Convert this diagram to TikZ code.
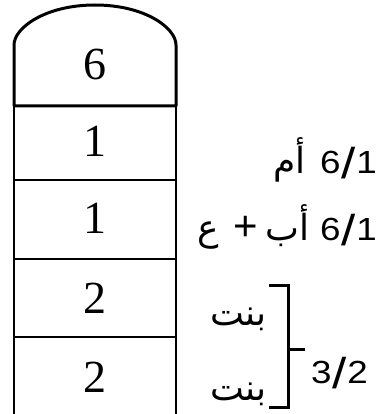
\documentclass[tikz,border=0pt]{standalone}
\usepackage{fontspec}
\setmainfont{Liberation Serif}
\newfontfamily\latsans{Liberation Sans}
\newfontfamily\arabicfont[Script=Arabic]{DejaVu Sans}
\TeXXeTstate=1
\newcommand{\frc}[2]{\scalebox{1.15}[1]{#1}\kern0.5pt\raisebox{-5pt}{\scalebox{1.6}[1.35]{/}}\kern1pt\scalebox{1.15}[1]{#2}}
\begin{document}
\begin{tikzpicture}[x=1pt,y=-1pt,
  thickline/.style={line width=3pt,line join=round},
  thinline/.style={line width=1.3pt},
  digit/.style={font=\fontsize{46}{46}\selectfont,inner sep=0pt,anchor=base},
  rlabel/.style={font=\latsans\fontsize{32}{32}\selectfont,inner sep=0pt,anchor=base east},
  pluslabel/.style={font=\latsans\fontsize{42}{42}\selectfont,inner sep=0pt,anchor=base east},
  arlabel/.style={font=\arabicfont\fontsize{36}{36}\selectfont,inner sep=0pt,anchor=base east}]
\useasboundingbox (0,0) rectangle (380,414);
% dome
\draw[thickline] (14,106) -- (14,45) .. controls (14,28) and (45,5) .. (95,5)
  .. controls (145,5) and (176,28) .. (176,45) -- (176,106) -- cycle;
% body
\draw[thinline] (14,106) -- (14,416);
\draw[thinline] (176,106) -- (176,416);
\draw[thinline] (14,180) -- (176,180);
\draw[thinline] (14,259) -- (176,259);
\draw[thinline] (14,337) -- (176,337);
% numbers
\node[digit] (d6) at (95,80) {6};
\node[digit] (r1) at (95,156) {1};
\node[digit] (r2) at (95,233) {1};
\node[digit] (r3) at (95,313) {2};
\node[digit] (r4) at (95,392) {2};
% right labels
\node[rlabel] (f1) at (377,173) {\frc{6}{1}};
\node[arlabel] (um) at (306,173) {\beginR أم\endR};
\node[rlabel] (f2) at (377,240) {\frc{6}{1}};
\node[arlabel] (ab) at (310,240) {\beginR أب\endR};
\node[pluslabel] (plus) at (258,240) {+};
\node[arlabel] (ayn) at (219,240) {\beginR ع\endR};
\node[arlabel] (b1) at (267,325) {\beginR بنت\endR};
\node[arlabel] (b2) at (267,400) {\beginR بنت\endR};
\node[rlabel] (f3) at (368,383) {\frc{3}{2}};
% bracket
\draw[thickline,line join=miter] (269,285) -- (288,285) -- (288,407) -- (269,407);
\draw[thickline] (288,349) -- (305,349);
\end{tikzpicture}
\end{document}
